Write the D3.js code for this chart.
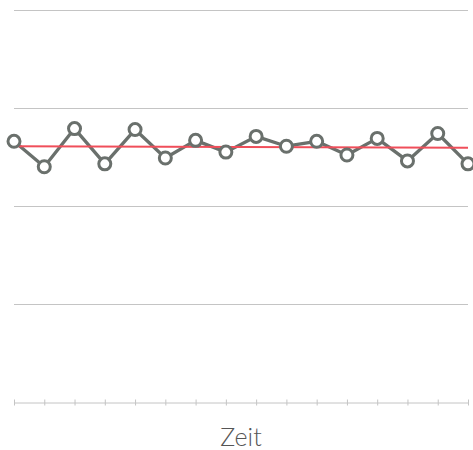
<!DOCTYPE html>
<html>
<head>
<meta charset="utf-8">
<script src="https://cdn.jsdelivr.net/npm/d3@7"></script>
<style>
  body { margin: 0; background: #fff; }
  svg { display: block; }
</style>
</head>
<body>
<div id="chart"></div>
<script>
// Werte
var periods = d3.range(1, 17);
var values = [2.66, 2.40, 2.79, 2.43, 2.78, 2.49, 2.67, 2.55, 2.71, 2.61, 2.66, 2.52, 2.69, 2.46, 2.74, 2.43];
var trend = [2.61, 2.595];   // Anfang, Ende der roten Linie
var gridValues = [1, 2, 3, 4];
var xLabel = "Zeit";

var width = 473,
    height = 450,
    plotLeft = 14,
    plotRight = 468,
    plotTop = 10,
    plotBottom = 402;

var svg = d3.select("#chart").append("svg")
    .attr("width", width)
    .attr("height", height);

var x = d3.scalePoint()
    .domain(periods)
    .range([plotLeft, plotRight]);

var y = d3.scaleLinear()
    .domain([0, 4])
    .range([plotBottom, plotTop]);

// horizontale Gitterlinien
svg.append("g")
    .selectAll("line")
    .data(gridValues)
    .enter().append("line")
    .attr("x1", plotLeft)
    .attr("x2", plotRight)
    .attr("y1", function(d) { return y(d) + 0.5; })
    .attr("y2", function(d) { return y(d) + 0.5; })
    .attr("stroke", "#c4c4c4")
    .attr("stroke-width", 1);

// x-Achse
var xAxis = svg.append("g")
    .attr("transform", "translate(0," + (plotBottom + 0.5) + ")")
    .call(d3.axisBottom(x).tickSize(3).tickSizeOuter(0).tickFormat(""));
xAxis.select(".domain").attr("stroke", "#c4c4c4");
xAxis.selectAll(".tick line")
    .attr("stroke", "#c4c4c4")
    .attr("y1", -3)
    .attr("y2", 3);

// Verbindungslinie
var line = d3.line()
    .x(function(d, i) { return x(periods[i]); })
    .y(function(d) { return y(d); });

svg.append("path")
    .datum(values)
    .attr("fill", "none")
    .attr("stroke", "#6a706c")
    .attr("stroke-width", 3.3)
    .attr("stroke-linejoin", "round")
    .attr("d", line);

// rote Trendlinie
svg.append("line")
    .attr("x1", x(periods[0]))
    .attr("x2", x(periods[periods.length - 1]))
    .attr("y1", y(trend[0]))
    .attr("y2", y(trend[1]))
    .attr("stroke", "#f04e5a")
    .attr("stroke-width", 2);

// Punkte
svg.append("g")
    .selectAll("circle")
    .data(values)
    .enter().append("circle")
    .attr("cx", function(d, i) { return x(periods[i]); })
    .attr("cy", function(d) { return y(d); })
    .attr("r", 6)
    .attr("fill", "#fff")
    .attr("stroke", "#6a706c")
    .attr("stroke-width", 3);

svg.append("text")
    .attr("x", (plotLeft + plotRight) / 2)
    .attr("y", 446)
    .attr("text-anchor", "middle")
    .attr("font-family", "Lato, sans-serif")
    .attr("font-weight", 300)
    .attr("font-size", 25)
    .attr("fill", "#555")
    .text(xLabel);
</script>
</body>
</html>
